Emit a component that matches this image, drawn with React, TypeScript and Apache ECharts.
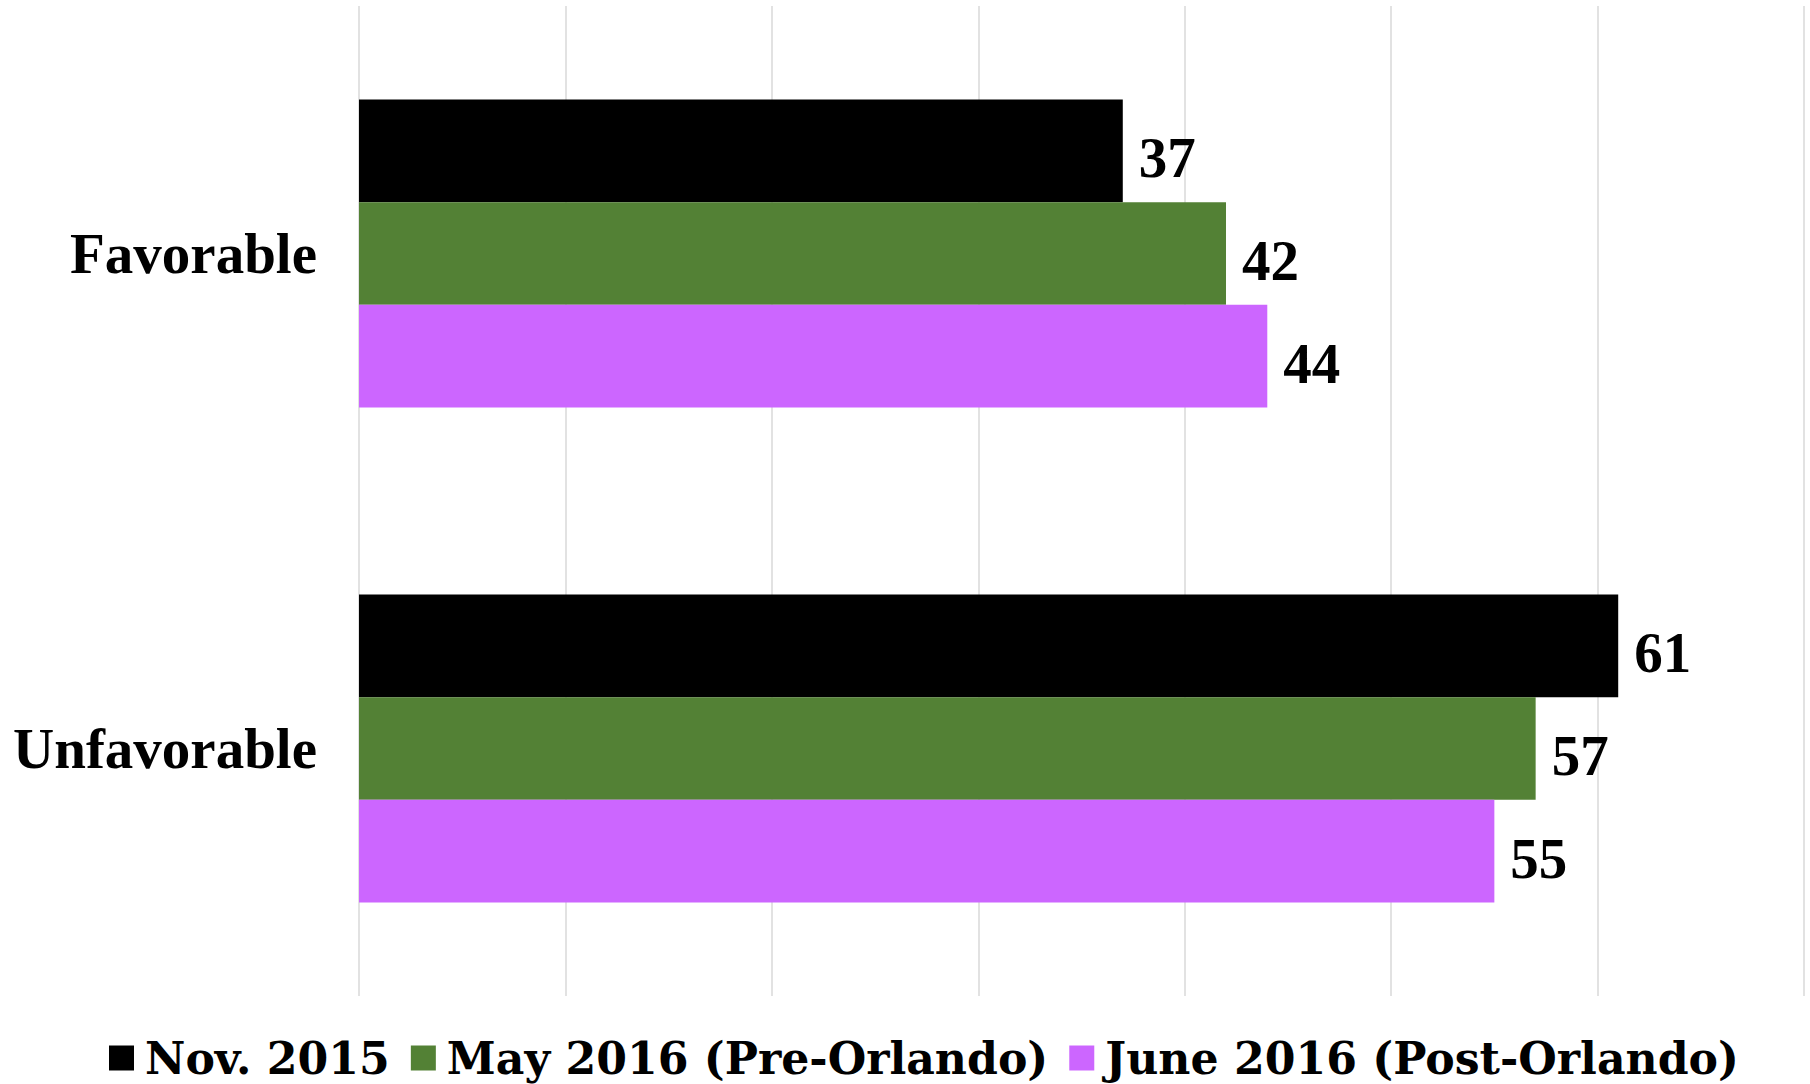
import React, { useEffect, useRef } from "react";
import * as echarts from "echarts";

const categories = ["Favorable", "Unfavorable"];
const seriesNames = ["Nov. 2015", "May 2016 (Pre-Orlando)", "June 2016 (Post-Orlando)"];
const nov2015 = [37, 61];
const may2016 = [42, 57];
const june2016 = [44, 55];
const seriesColors = ["#000000", "#538135", "#CC66FF"];

export default function App() {
  const ref = useRef<HTMLDivElement>(null);
  useEffect(() => {
    if (!ref.current) return;
    const chart = echarts.init(ref.current, undefined, { renderer: "svg" });
    const values = [nov2015, may2016, june2016];
    chart.setOption({
      animation: false,
      backgroundColor: "#ffffff",
      grid: { left: 359, right: 6, top: 6, bottom: 88, containLabel: false },
      legend: {
        top: 1030,
        left: 104,
        itemWidth: 25,
        itemHeight: 25,
        itemGap: 21,
        icon: "rect",
        textStyle: {
          fontFamily: "DejaVu Serif",
          fontWeight: "bold",
          fontSize: 44.2,
          lineHeight: 46,
          color: "#000",
          padding: [0, 0, 0, 6],
        },
        data: seriesNames,
      },
      xAxis: {
        type: "value",
        min: 0,
        max: 70,
        interval: 10,
        axisLabel: { show: false },
        axisLine: { show: false },
        axisTick: { show: false },
        splitLine: { show: true, lineStyle: { color: "#d9d9d9", width: 1.5 } },
      },
      yAxis: {
        type: "category",
        data: categories,
        inverse: true,
        axisLine: { show: false },
        axisTick: { show: false },
        axisLabel: {
          margin: 42,
          fontFamily: "Liberation Serif",
          fontWeight: "bold",
          fontSize: 57,
          color: "#000",
        },
      },
      series: seriesNames.map((name, i) => ({
        name,
        type: "bar",
        data: values[i],
        barGap: "0%",
        barCategoryGap: "37.8%",
        itemStyle: { color: seriesColors[i] },
        label: {
          show: true,
          position: "right",
          distance: 16,
          offset: [0, 7],
          fontFamily: "Liberation Serif",
          fontWeight: "bold",
          fontSize: 57,
          color: "#000",
        },
      })),
    });
    return () => chart.dispose();
  }, []);
  return (
    <div
      ref={ref}
      style={{ position: "fixed", left: 0, top: 0, width: 1810, height: 1084 }}
    />
  );
}
